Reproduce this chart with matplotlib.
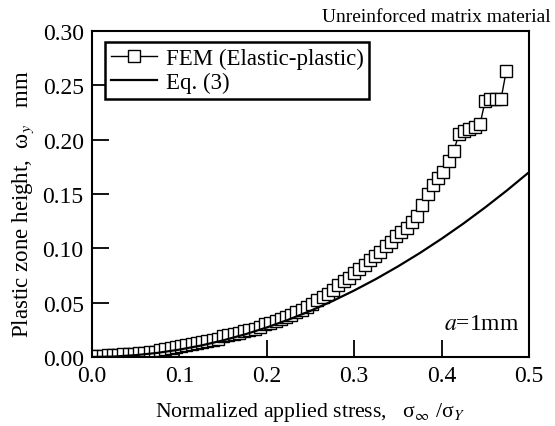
import matplotlib
matplotlib.use("Agg")
import matplotlib.pyplot as plt

plt.rcParams['font.family'] = ['Liberation Serif', 'DejaVu Serif']
plt.rcParams['mathtext.fontset'] = 'stix'

# FEM (Elastic-plastic) data
fem_x = [0.000, 0.006, 0.012, 0.018, 0.024, 0.030, 0.036, 0.042, 0.048, 0.054,
         0.060, 0.066, 0.072, 0.078, 0.084, 0.090, 0.096, 0.102, 0.108, 0.114,
         0.120, 0.126, 0.132, 0.138, 0.144, 0.150, 0.156, 0.162, 0.168, 0.174,
         0.180, 0.186, 0.192, 0.198, 0.204, 0.210, 0.216, 0.222, 0.228, 0.234,
         0.240, 0.246, 0.252, 0.258, 0.264, 0.270, 0.276, 0.282, 0.288, 0.294,
         0.300, 0.306, 0.312, 0.318, 0.324, 0.330, 0.336, 0.342, 0.348, 0.354,
         0.360, 0.366, 0.372, 0.378, 0.384, 0.390, 0.396, 0.402, 0.408, 0.414,
         0.420, 0.426, 0.432, 0.438, 0.444, 0.450, 0.456, 0.462, 0.468, 0.474]
fem_y = [0.001, 0.001, 0.001, 0.002, 0.002, 0.002, 0.003, 0.003, 0.003, 0.004,
         0.004, 0.005, 0.005, 0.006, 0.007, 0.008, 0.009, 0.010, 0.011, 0.012,
         0.013, 0.014, 0.015, 0.016, 0.017, 0.019, 0.020, 0.021, 0.022, 0.024,
         0.025, 0.026, 0.028, 0.030, 0.031, 0.033, 0.035, 0.037, 0.039, 0.041,
         0.043, 0.046, 0.049, 0.052, 0.055, 0.058, 0.062, 0.066, 0.070, 0.073,
         0.077, 0.081, 0.085, 0.089, 0.093, 0.097, 0.102, 0.106, 0.111, 0.115,
         0.119, 0.124, 0.130, 0.140, 0.150, 0.158, 0.165, 0.170, 0.180, 0.190,
         0.205, 0.208, 0.210, 0.212, 0.214, 0.236, 0.237, 0.237, 0.237, 0.263]

# Eq. (3) curve
eq_x = [0.000, 0.025, 0.050, 0.075, 0.100, 0.125, 0.150, 0.175, 0.200, 0.225,
        0.250, 0.275, 0.300, 0.325, 0.350, 0.375, 0.400, 0.425, 0.450, 0.475, 0.500]
eq_y = [0.0000, 0.0004, 0.0017, 0.0038, 0.0068, 0.0106, 0.0153, 0.0208, 0.0272, 0.0344,
        0.0425, 0.0514, 0.0612, 0.0718, 0.0833, 0.0956, 0.1088, 0.1228, 0.1377, 0.1534, 0.1700]

x_ticks = [0.0, 0.1, 0.2, 0.3, 0.4, 0.5]
y_ticks = [0.00, 0.05, 0.10, 0.15, 0.20, 0.25, 0.30]

fig = plt.figure(figsize=(5.55, 4.27), dpi=100)
ax = fig.add_axes([0.1658, 0.1616, 0.7872, 0.7634])

ax.plot(fem_x, fem_y, color='black', lw=1.0, marker='s', ms=9,
        mfc='white', mec='black', mew=1.0, label='FEM (Elastic-plastic)', zorder=2)
ax.plot(eq_x, eq_y, color='black', lw=1.6, label='Eq. (3)', zorder=3)

ax.set_xlim(0, 0.5)
ax.set_ylim(0, 0.30)
ax.set_xticks(x_ticks)
ax.set_xticklabels(['%.1f' % v for v in x_ticks])
ax.set_yticks(y_ticks)
ax.set_yticklabels(['%.2f' % v for v in y_ticks])
ax.tick_params(direction='in', length=12, width=1.3, labelsize=17, pad=6,
               top=False, right=False)
for s in ax.spines.values():
    s.set_linewidth(1.5)

ax.set_xlabel('Normalized applied stress,   σ$_\\infty$ /σ$_{\\mathit{Y}}$', fontsize=15.7, labelpad=10)
ax.set_ylabel('Plastic zone height,  ω$_y$   mm', fontsize=16.5)
ax.yaxis.set_label_coords(-0.128, 0.472)

ax.text(1.05, 1.02, 'Unreinforced matrix material', transform=ax.transAxes,
        ha='right', va='bottom', fontsize=14)
ax.text(0.979, 0.085, r'$a$=1mm', transform=ax.transAxes, ha='right', va='baseline', fontsize=17)

leg = ax.legend(loc='upper left', bbox_to_anchor=(0.03, 0.965), fontsize=16.5,
                frameon=True, fancybox=False, edgecolor='black', framealpha=1,
                handlelength=2.0, handletextpad=0.4, borderpad=0.25, labelspacing=0.1,
                borderaxespad=0)
leg.get_frame().set_linewidth(1.8)

fig.savefig('out.png', dpi=100)
